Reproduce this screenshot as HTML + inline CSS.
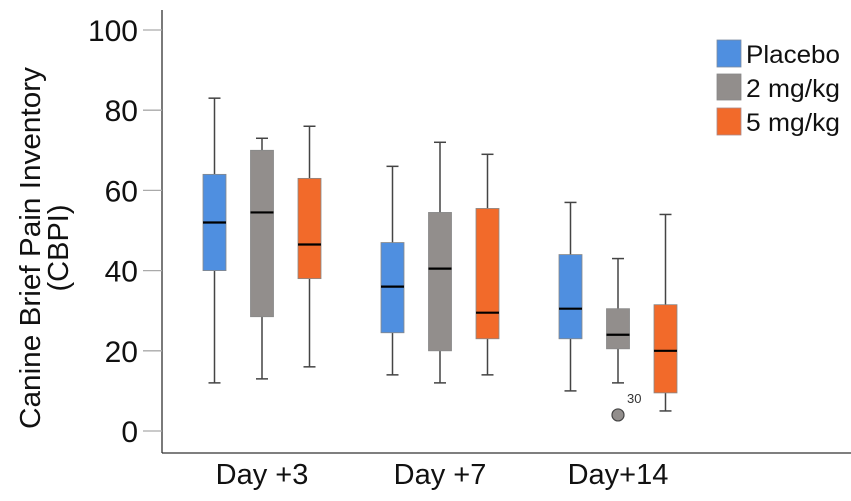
<!DOCTYPE html>
<html><head><meta charset="utf-8"><style>
body{margin:0;background:#fff;}
svg{display:block;font-family:"Liberation Sans",Arial,sans-serif;}
</style></head><body>
<svg id="chart" width="851" height="501" viewBox="0 0 851 501">
<g id="yaxis"></g>
<g id="boxes"></g>
<text transform="translate(40,248) rotate(-90)" text-anchor="middle" font-size="29" fill="#111" textLength="362" lengthAdjust="spacingAndGlyphs">Canine Brief Pain Inventory</text>
<text transform="translate(68,248) rotate(-90)" text-anchor="middle" font-size="29" fill="#111">(CBPI)</text>
<g>
<rect x="717" y="40" width="24" height="27" fill="#4f8fe0" stroke="#7a8aa0" stroke-width="0.8"/>
<text x="746" y="63" font-size="25" fill="#111" textLength="94" lengthAdjust="spacingAndGlyphs">Placebo</text>
<rect x="717" y="74" width="24" height="26" fill="#928e8c" stroke="#888" stroke-width="0.8"/>
<text x="746" y="97" font-size="25" fill="#111" textLength="94" lengthAdjust="spacingAndGlyphs">2 mg/kg</text>
<rect x="717" y="108" width="24" height="27" fill="#f26a2a" stroke="#a88" stroke-width="0.8"/>
<text x="746" y="131" font-size="25" fill="#111" textLength="94" lengthAdjust="spacingAndGlyphs">5 mg/kg</text>
</g>
</svg>
<script>
const categories = ["Day +3", "Day +7", "Day+14"];
const seriesNames = ["Placebo", "2 mg/kg", "5 mg/kg"];
const mins    = [[12,13,16],[14,12,14],[10,12,5]];
const q1s     = [[40,28.5,38],[24.5,20,23],[23,20.5,9.5]];
const medians = [[52,54.5,46.5],[36,40.5,29.5],[30.5,24,20]];
const q3s     = [[64,70,63],[47,54.5,55.5],[44,30.5,31.5]];
const maxs    = [[83,73,76],[66,72,69],[57,43,54]];
const outlierValues = [{cat:2, ser:1, value:4, label:"30"}];
const yTicks = [0,20,40,60,80,100];

const colors = ["#4f8fe0","#928e8c","#f26a2a"];
const NS = "http://www.w3.org/2000/svg";
const y = v => 431 - v*4.01;
const groupX = i => 262 + i*178;
const boxX = (c,s) => groupX(c) + (s-1)*47.5;
const BW = 23;
function mk(tag, attrs, parent){const e=document.createElementNS(NS,tag);for(const k in attrs)e.setAttribute(k,attrs[k]);parent.appendChild(e);return e;}
const ya = document.getElementById('yaxis');
const bx = document.getElementById('boxes');
const chart = document.getElementById('chart');
let l = mk('line',{x1:162,y1:10,x2:162,y2:453,stroke:'#333','stroke-width':1.3},ya);


l = mk('line',{x1:162,y1:453,x2:851,y2:453,stroke:'#333','stroke-width':1.3},ya);


yTicks.forEach(t=>{
  const tk = mk('line',{x1:143,x2:162,y1:y(t),y2:y(t),stroke:'#aaa','stroke-width':1.3},ya);
  
  
  const tx = mk('text',{x:138,y:y(t)+11,'text-anchor':'end','font-size':30,fill:'#111'},ya);
  tx.textContent = t;
  
  
});
categories.forEach((c,i)=>{
  const tx = mk('text',{x:groupX(i),y:484,'text-anchor':'middle','font-size':29,fill:'#111'},chart);
  tx.textContent = c;
  
  
  seriesNames.forEach((s,j)=>{
    const x = boxX(i,j);
    const g = mk('g',{},bx);
    
    
    mk('line',{x1:x,x2:x,y1:y(maxs[i][j]),y2:y(mins[i][j]),stroke:'#444','stroke-width':1.5},g);
    mk('line',{x1:x-6,x2:x+6,y1:y(maxs[i][j]),y2:y(maxs[i][j]),stroke:'#444','stroke-width':1.5},g);
    mk('line',{x1:x-6,x2:x+6,y1:y(mins[i][j]),y2:y(mins[i][j]),stroke:'#444','stroke-width':1.5},g);
    mk('rect',{x:x-BW/2,y:y(q3s[i][j]),width:BW,height:y(q1s[i][j])-y(q3s[i][j]),fill:colors[j],stroke:'#888','stroke-width':0.8},g);
    mk('line',{x1:x-BW/2,x2:x+BW/2,y1:y(medians[i][j]),y2:y(medians[i][j]),stroke:'#000','stroke-width':2.2},g);
  });
});
outlierValues.forEach(o=>{
  const x = boxX(o.cat,o.ser);
  const c = mk('circle',{cx:x,cy:y(o.value),r:6,fill:'#928e8c',stroke:'#444','stroke-width':1.2},bx);
  
  
  const t = mk('text',{x:x+9,y:y(o.value)-12,'font-size':13,fill:'#333'},bx);
  t.textContent = o.label;
  
  
});
</script>
</body></html>
